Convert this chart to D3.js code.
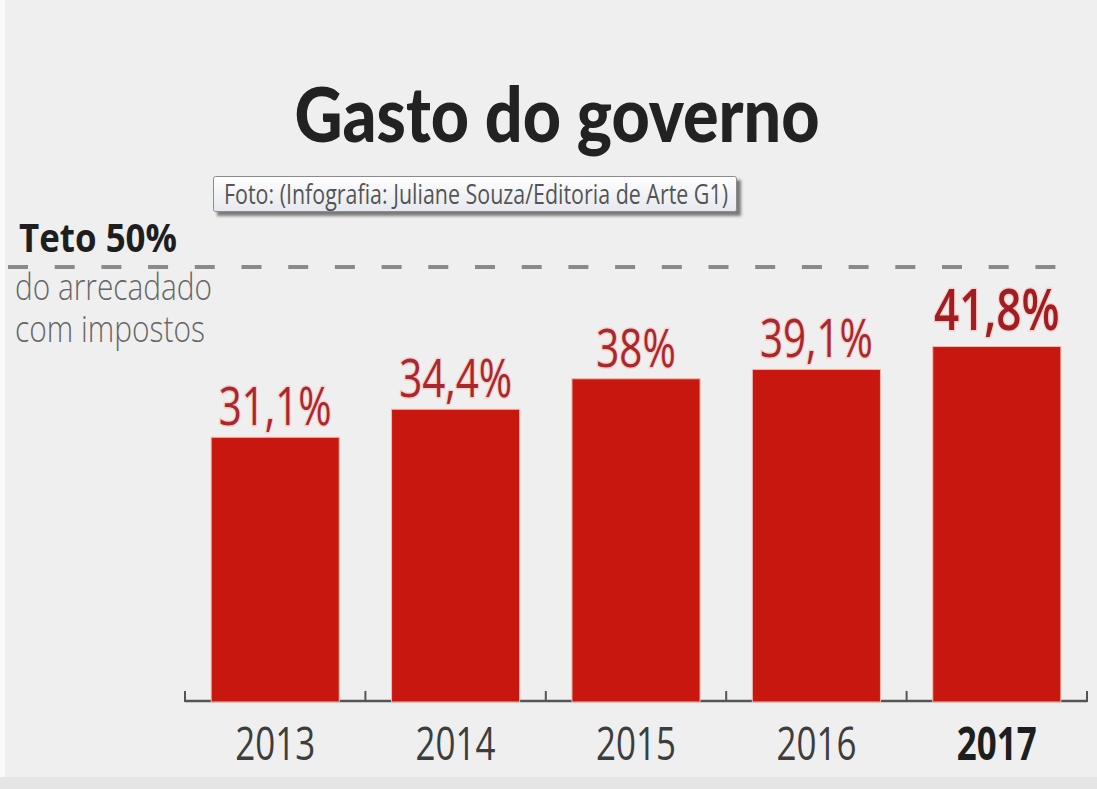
<!DOCTYPE html>
<html>
<head>
<meta charset="utf-8">
<script src="https://cdn.jsdelivr.net/npm/d3@7"></script>
<style>
  html, body { margin: 0; padding: 0; background: #efefef; }
  svg { display: block; }
</style>
</head>
<body>
<script>
// data
var years = ['2013', '2014', '2015', '2016', '2017'];
var gasto = [31.1, 34.4, 38, 39.1, 41.8];
var valueLabels = ['31,1%', '34,4%', '38%', '39,1%', '41,8%'];
var teto = 50;
var titleText = 'Gasto do governo';
var creditText = 'Foto: (Infografia: Juliane Souza/Editoria de Arte G1)';
var tetoLines = ['Teto 50%', 'do arrecadado', 'com impostos'];

function drawChart(){
    var width = 1097,
        height = 789;

    var svg = d3.select('body')
        .append('svg')
        .attr('width', width)
        .attr('height', height);

    // background, with the lighter left edge and darker bottom strip of the scan
    svg.append('rect').attr('width', width).attr('height', height).attr('fill', '#efefef');
    svg.append('rect').attr('width', 5).attr('height', height).attr('fill', '#fafafa');
    svg.append('rect').attr('y', 777).attr('width', width).attr('height', height - 777).attr('fill', '#e5e5e5');

    var defs = svg.append('defs');
    var grad = defs.append('linearGradient')
        .attr('id', 'tipGrad')
        .attr('x1', 0).attr('y1', 0).attr('x2', 0).attr('y2', 1);
    grad.append('stop').attr('offset', '0%').attr('stop-color', '#ffffff');
    grad.append('stop').attr('offset', '100%').attr('stop-color', '#e6e8ee');
    var blur = defs.append('filter').attr('id', 'shadow')
        .attr('x', '-5%').attr('y', '-30%').attr('width', '110%').attr('height', '170%');
    blur.append('feGaussianBlur').attr('stdDeviation', 1.5);

    //scales
    var x = d3.scaleBand()
        .domain(years)
        .range([185, 1087])
        .paddingInner(0.29)
        .paddingOuter(0.145);

    var y = d3.scaleLinear()
        .domain([0, teto])
        .range([701, 277]);

    //squeeze a text to a share of its natural width (the original face is condensed)
    function condense(sel, f){
        sel.each(function(){
            var w = this.getComputedTextLength();
            d3.select(this)
                .attr('textLength', w * f)
                .attr('lengthAdjust', 'spacingAndGlyphs');
        });
    }

    //title
    svg.append('text')
        .attr('x', 557)
        .attr('y', 142)
        .attr('text-anchor', 'middle')
        .attr('font-family', 'Lato, "Open Sans", sans-serif')
        .attr('font-weight', 900)
        .attr('font-size', 77)
        .attr('fill', '#222')
        .attr('textLength', 525)
        .attr('lengthAdjust', 'spacingAndGlyphs')
        .text(titleText);

    //credit tooltip
    var tip = svg.append('g');
    tip.append('rect')
        .attr('x', 217).attr('y', 180)
        .attr('width', 524).attr('height', 36)
        .attr('fill', '#7a7a7a')
        .attr('filter', 'url(#shadow)');
    tip.append('rect')
        .attr('x', 213.5).attr('y', 176.5)
        .attr('width', 523).attr('height', 35)
        .attr('rx', 2)
        .attr('fill', 'url(#tipGrad)')
        .attr('stroke', '#8c8c8c');
    tip.append('text')
        .attr('x', 224)
        .attr('y', 204)
        .attr('font-family', '"Open Sans", sans-serif')
        .attr('font-size', 27)
        .attr('fill', '#555')
        .attr('textLength', 504)
        .attr('lengthAdjust', 'spacingAndGlyphs')
        .text(creditText);

    //ceiling line
    svg.append('line')
        .attr('x1', 8)
        .attr('x2', x(years[years.length - 1]) + x.bandwidth())
        .attr('y1', y(teto) - 10)
        .attr('y2', y(teto) - 10)
        .attr('stroke', '#8a8a8a')
        .attr('stroke-width', 4)
        .attr('stroke-dasharray', '20,26.7');

    //ceiling annotation
    svg.append('text')
        .attr('x', 19).attr('y', 252)
        .attr('font-family', '"Open Sans", sans-serif')
        .attr('font-weight', 700)
        .attr('font-size', 39)
        .attr('fill', '#1e1e1e')
        .attr('textLength', 158)
        .attr('lengthAdjust', 'spacingAndGlyphs')
        .text(tetoLines[0]);
    svg.append('text')
        .attr('x', 15).attr('y', 300)
        .attr('font-family', '"Open Sans", sans-serif')
        .attr('font-weight', 300)
        .attr('font-size', 37)
        .attr('fill', '#666')
        .attr('textLength', 197)
        .attr('lengthAdjust', 'spacingAndGlyphs')
        .text(tetoLines[1]);
    svg.append('text')
        .attr('x', 15).attr('y', 342)
        .attr('font-family', '"Open Sans", sans-serif')
        .attr('font-weight', 300)
        .attr('font-size', 37)
        .attr('fill', '#666')
        .attr('textLength', 190)
        .attr('lengthAdjust', 'spacingAndGlyphs')
        .text(tetoLines[2]);

    //axis line with ticks between the bands
    var step = x.step(),
        x0 = x.range()[0],
        x1 = x.range()[1];
    var tickX = years.map(function(d){ return x(d) - step * x.paddingInner() / 2; });
    tickX[0] = x0;
    tickX.push(x1);
    svg.append('line')
        .attr('x1', x0).attr('x2', x1)
        .attr('y1', y(0)).attr('y2', y(0))
        .attr('stroke', '#555')
        .attr('stroke-width', 2.5);
    svg.selectAll('.tick')
        .data(tickX)
        .enter()
        .append('line')
        .attr('class', 'tick')
        .attr('x1', function(d){ return d; })
        .attr('x2', function(d){ return d; })
        .attr('y1', y(0) + 1)
        .attr('y2', y(0) - 10)
        .attr('stroke', '#555')
        .attr('stroke-width', 2);

    //bars
    svg.selectAll('.bar')
        .data(gasto)
        .enter()
        .append('rect')
        .attr('class', 'bar')
        .attr('x', function(d, i){ return x(years[i]); })
        .attr('width', x.bandwidth())
        .attr('y', function(d){ return y(d); })
        .attr('height', function(d){ return y(0) - y(d) + 1; })
        .attr('fill', '#c8170f')
        .attr('stroke', '#f2b8ae')
        .attr('stroke-width', 1);

    //value labels
    var last = gasto.length - 1;
    var labels = svg.selectAll('.value')
        .data(gasto)
        .enter()
        .append('text')
        .attr('class', 'value')
        .attr('x', function(d, i){ return x(years[i]) + x.bandwidth() / 2; })
        .attr('y', function(d, i){ return y(d) - (i === last ? 17 : 12); })
        .attr('text-anchor', 'middle')
        .attr('font-family', '"Open Sans", sans-serif')
        .attr('font-weight', function(d, i){ return i === last ? 600 : 400; })
        .attr('font-size', function(d, i){ return i === last ? 58 : 53; })
        .attr('fill', function(d, i){ return i === last ? '#a11d22' : '#a8282e'; })
        .attr('stroke', '#f6d3cf')
        .attr('stroke-width', 3)
        .attr('paint-order', 'stroke')
        .text(function(d, i){ return valueLabels[i]; });
    condense(labels, 0.76);

    //year labels
    var yearText = svg.selectAll('.year')
        .data(years)
        .enter()
        .append('text')
        .attr('class', 'year')
        .attr('x', function(d){ return x(d) + x.bandwidth() / 2; })
        .attr('y', 760)
        .attr('text-anchor', 'middle')
        .attr('font-family', '"Open Sans", sans-serif')
        .attr('font-weight', function(d, i){ return i === last ? 700 : 400; })
        .attr('font-size', 46)
        .attr('fill', function(d, i){ return i === last ? '#1e1e1e' : '#3d3d3d'; })
        .text(function(d){ return d; });
    condense(yearText, 0.76);
}

window.onload = drawChart;
</script>
</body>
</html>
